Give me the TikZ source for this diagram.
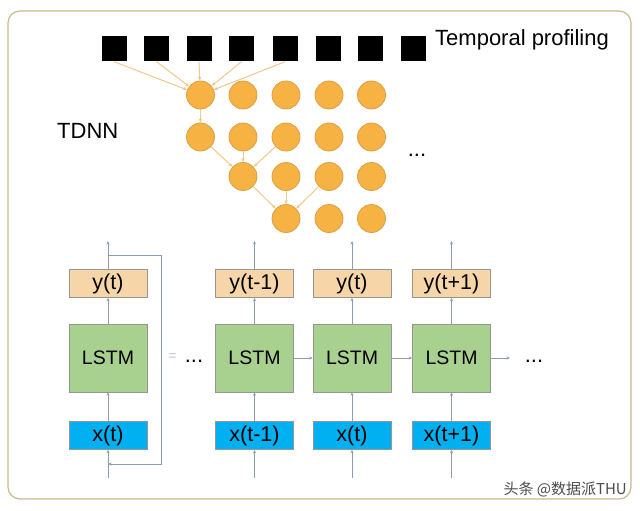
\documentclass[tikz,border=0pt]{standalone}
\usepackage{fontspec}
\setmainfont{Liberation Sans}
\newfontfamily\cjk{Noto Sans CJK SC}
\usetikzlibrary{arrows.meta}
\definecolor{frameC}{RGB}{200,186,140}
\definecolor{circF}{RGB}{246,178,66}
\definecolor{circD}{RGB}{218,160,70}
\definecolor{tlineC}{RGB}{240,200,140}
\definecolor{arrC}{RGB}{140,158,182}
\definecolor{yF}{RGB}{246,214,168}
\definecolor{lF}{RGB}{168,208,142}
\definecolor{xF}{RGB}{0,176,240}
\definecolor{boxD}{RGB}{150,150,150}
\tikzset{
  sq/.style={fill=black, minimum size=25pt, inner sep=0pt},
  circ/.style={circle, fill=circF, draw=circD, line width=0.8pt, minimum size=28pt, inner sep=0pt},
  tl/.style={draw=tlineC, line width=1pt, -{Stealth[length=4pt,width=3.5pt]}},
  arr/.style={draw=arrC, line width=0.8pt, -{Stealth[length=3.5pt,width=3pt]}},
  ybox/.style={fill=yF, draw=boxD, line width=0.6pt, minimum width=78pt, minimum height=28pt, inner sep=0pt, font=\fontsize{21.5}{24}\selectfont},
  lbox/.style={fill=lF, draw=boxD, line width=0.6pt, minimum width=78pt, minimum height=68pt, inner sep=0pt, font=\fontsize{19.5}{22}\selectfont},
  xbox/.style={fill=xF, draw=boxD, line width=0.6pt, minimum width=78pt, minimum height=28pt, inner sep=0pt, font=\fontsize{21.5}{24}\selectfont},
  lbl/.style={font=\fontsize{22}{26}\selectfont, inner sep=0pt}
}
\begin{document}
\begin{tikzpicture}[x=1pt, y=-1pt]
\useasboundingbox (0,0) rectangle (640,511);
\fill[white] (0,0) rectangle (640,511);
\draw[frameC, line width=1.2pt, rounded corners=12pt] (8,11) rectangle (631,499);

% temporal profiling squares
\foreach \i/\xx in {1/114,2/156.5,3/199,4/241.5,5/285,6/328,7/370.5,8/413}
  \node[sq] (s\i) at (\xx,49) {};
\node[lbl, anchor=west] (tp) at (435,40) {Temporal profiling};
\node[lbl, anchor=west] (tdnn) at (57,131) {TDNN};
\node[lbl] (tdots) at (417,155) {...};

% circles
\foreach \c/\xx in {1/200.5,2/243,3/286,4/329,5/371.5} {
  \node[circ] (r1c\c) at (\xx,95) {};
  \node[circ] (r2c\c) at (\xx,137) {};
}
\foreach \c/\xx in {2/243,3/286,4/329,5/371.5}
  \node[circ] (r3c\c) at (\xx,176.5) {};
\foreach \c/\xx in {3/286,4/329,5/371.5}
  \node[circ] (r4c\c) at (\xx,218.5) {};

\foreach \i in {1,...,5}
  \draw[tl] (s\i.south) -- (r1c1);
\draw[tl] (r1c1) -- (r2c1);
\foreach \c in {1,2,3}
  \draw[tl] (r2c\c) -- (r3c2);
\foreach \c in {2,3,4}
  \draw[tl] (r3c\c) -- (r4c3);

% LSTM columns
\foreach \k/\xx/\yt/\xt in {0/108/y(t)/x(t), 1/254.5/y(t-1)/x(t-1), 2/352/y(t)/x(t), 3/451.5/y(t+1)/x(t+1)} {
  \node[ybox] (y\k) at (\xx,283.5) {\yt};
  \node[lbox] (l\k) at (\xx,358) {LSTM};
  \node[xbox] (x\k) at (\xx,435.5) {\xt};
  \coordinate (top\k) at (\xx,241);
  \coordinate (bot\k) at (\xx,478);
  \draw[arr] (bot\k) -- (x\k.south);
  \draw[arr] (x\k.north) -- (l\k.south);
  \draw[arr] (l\k.north) -- (y\k.south);
  \draw[arr] (y\k.north) -- (top\k);
}
% feedback loop
\coordinate (lpA) at (108,255);
\coordinate (lpB) at (108,464);
\draw[arr] (lpA) -- (161,255) -- (161,464) -- (lpB);

\draw[arr] (l1) -- (l2);
\draw[arr] (l2) -- (l3);
\coordinate (rend) at (510,358);
\draw[arr] (l3) -- (rend);

\node[font=\fontsize{14}{16}\selectfont, inner sep=0pt, text=arrC!60] (eq) at (172.5,357) {=};
\node[lbl] (ldots) at (194,361) {...};
\node[lbl] (rdots) at (534,361) {...};

\node[font=\cjk\fontsize{15}{18}\selectfont, text=black!70, anchor=east, inner sep=0pt] (wm) at (627,489) {头条 @数据派THU};
\end{tikzpicture}
\end{document}
